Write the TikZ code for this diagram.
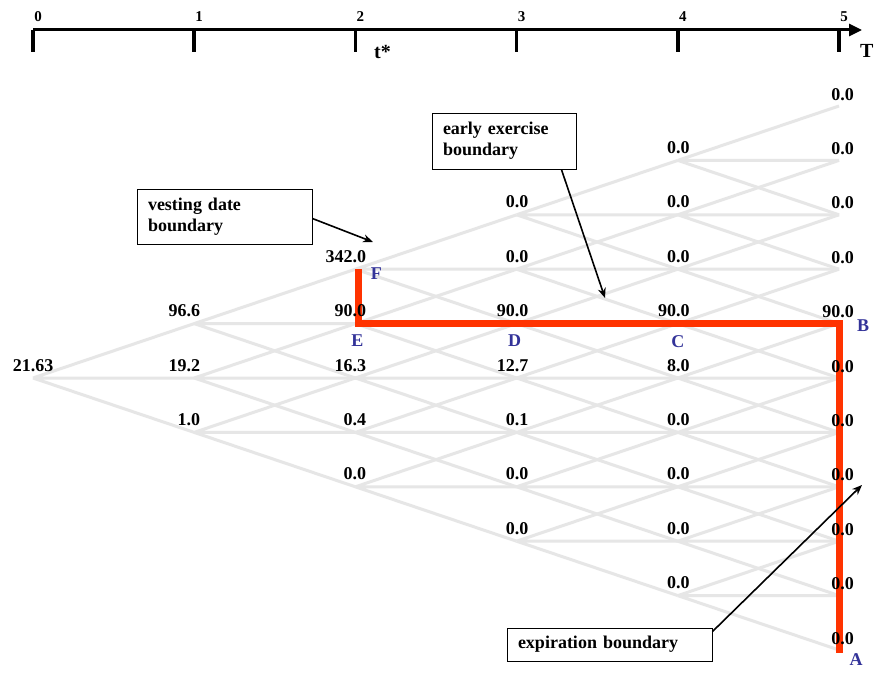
\documentclass[tikz,border=0pt]{standalone}
\usepackage{fontspec}
\setmainfont{Liberation Serif}
\usetikzlibrary{arrows.meta}
\definecolor{treegray}{RGB}{230,230,230}
\definecolor{boundred}{RGB}{255,51,0}
\definecolor{labelblue}{RGB}{51,51,153}

\begin{document}
\begin{tikzpicture}[x=1pt,y=-1pt,
  treeline/.style={draw=treegray,line width=3pt},
  boundary/.style={draw=boundred,line width=7pt,line join=miter},
  val/.style={font=\fontsize{18}{20}\selectfont\bfseries,inner sep=0pt},
  ptlabel/.style={font=\fontsize{18}{20}\selectfont\bfseries,text=labelblue,inner sep=0pt},
  axisline/.style={line width=3pt},
  tickmark/.style={line width=3.5pt},
  ticklabel/.style={font=\fontsize{15}{17}\selectfont\bfseries,inner sep=0pt,anchor=base},
  axislabel/.style={font=\fontsize{20}{22}\selectfont\bfseries,inner sep=0pt,anchor=base west},
  note/.style={draw,line width=0.8pt,font=\fontsize{18}{21}\selectfont\bfseries,
    align=left,inner xsep=11pt,inner ysep=0pt},
  pointer/.style={line width=1.6pt,-{Stealth[length=10pt,width=8pt]}},
]
\fill[white] (0,0) rectangle (883,677);
\useasboundingbox (0,0) rectangle (883,677);

% ---------- time axis ----------
\foreach \i in {0,...,5} \coordinate (tk\i) at (33+161.2*\i,30);
\coordinate (axisend) at (862,30);
\draw[axisline,-{Triangle[length=13pt,width=12pt]}] (tk0) -- (axisend);
\foreach \i in {0,...,5}{
  \draw[tickmark] (tk\i) -- ++(0,22);
  \node[ticklabel] (tl\i) at ([shift={(5,-8)}]tk\i) {\i};
}
\node[axislabel] (tstar) at (374,59) {t*};
\node[axislabel] (tend) at (860,58) {T};

% ---------- trinomial lattice ----------
\foreach \i in {0,...,5}
  \foreach \k in {0,...,10}
    \coordinate (p\i-\k) at (33+161.2*\i,106+54.4*\k);

\foreach \i in {0,...,4}{
  \pgfmathtruncatemacro\lo{5-\i}
  \pgfmathtruncatemacro\hi{5+\i}
  \pgfmathtruncatemacro\nx{\i+1}
  \foreach \k in {\lo,...,\hi}{
    \pgfmathtruncatemacro\up{\k-1}
    \pgfmathtruncatemacro\dn{\k+1}
    \draw[treeline] (p\i-\k) -- (p\nx-\up) (p\i-\k) -- (p\nx-\k) (p\i-\k) -- (p\nx-\dn);
  }
}

% ---------- exercise boundary ----------
\draw[boundary] ([xshift=3pt]p2-3) -- ([xshift=3pt]p2-4) -- (p5-4) -- ([yshift=-3pt]p5-10);

% ---------- option values ----------
\node[val,anchor=base] (v0-5) at ([shift={(0,-7)}]p0-5) {21.63};
\foreach \k/\v in {4/96.6,5/19.2,6/1.0}
  \node[val,anchor=base east] (v1-\k) at ([shift={(6,-7)}]p1-\k) {\v};
\foreach \k/\v in {3/342.0,4/90.0,5/16.3,6/0.4,7/0.0}
  \node[val,anchor=base east] (v2-\k) at ([shift={(11,-7)}]p2-\k) {\v};
\foreach \k/\v in {2/0.0,3/0.0,4/90.0,5/12.7,6/0.1,7/0.0,8/0.0}
  \node[val,anchor=base east] (v3-\k) at ([shift={(12,-7)}]p3-\k) {\v};
\foreach \k/\v in {1/0.0,2/0.0,3/0.0,4/90.0,5/8.0,6/0.0,7/0.0,8/0.0,9/0.0}
  \node[val,anchor=base east] (v4-\k) at ([shift={(12,-7)}]p4-\k) {\v};
\foreach \k/\v in {0/0.0,1/0.0,2/0.0,3/0.0,4/90.0,5/0.0,6/0.0,7/0.0,8/0.0,9/0.0,10/0.0}
  \node[val,anchor=base east] (v5-\k) at ([shift={(15,-6)}]p5-\k) {\v};

% ---------- boundary points ----------
\node[ptlabel] (ptF) at ([shift={(21,4)}]p2-3) {F};
\node[ptlabel] (ptE) at ([shift={(2,17)}]p2-4) {E};
\node[ptlabel] (ptD) at ([shift={(-2,17)}]p3-4) {D};
\node[ptlabel] (ptC) at ([shift={(0,18)}]p4-4) {C};
\node[ptlabel] (ptB) at ([shift={(24,2)}]p5-4) {B};
\node[ptlabel] (ptA) at ([shift={(17,10)}]p5-10) {A};

% ---------- annotations ----------
\node[note,text width=153pt,minimum height=55pt] (vestnote) at (224.5,216.5) {vesting date\\boundary};
\node[note,text width=122pt,minimum height=56pt] (earlynote) at (504,141) {early exercise\\boundary};
\node[note,text width=183pt,minimum height=33pt] (expnote) at (609.5,644.5) {expiration boundary};

\coordinate (vesttip) at (373,242);
\coordinate (earlytip) at (605,298);
\coordinate (exptip) at (862,485);
\draw[pointer] ([yshift=-2pt]vestnote.east) -- (vesttip);
\draw[pointer] ([xshift=-15pt]earlynote.south east) -- (earlytip);
\draw[pointer] ([yshift=-4pt]expnote.north east) -- (exptip);
\end{tikzpicture}
\end{document}
